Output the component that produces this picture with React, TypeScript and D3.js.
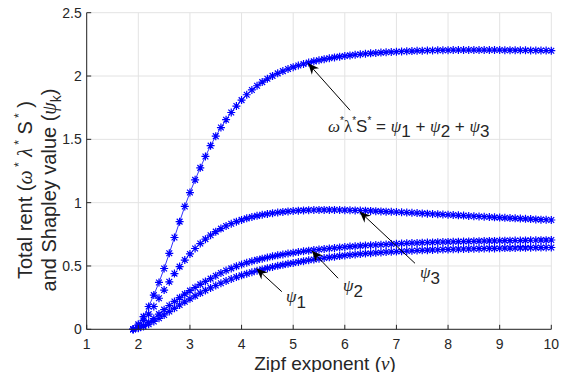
import React from "react";
import * as d3 from "d3";

// sample grid of the Zipf exponent
const nu = [
  1.9, 2.0, 2.1, 2.2, 2.3, 2.4, 2.5, 2.6, 2.7, 2.8, 2.9,
  3.0, 3.1, 3.2, 3.3, 3.4, 3.5, 3.6, 3.7, 3.8, 3.9,
  4.0, 4.1, 4.2, 4.3, 4.4, 4.5, 4.6, 4.7, 4.8, 4.9,
  5.0, 5.1, 5.2, 5.3, 5.4, 5.5, 5.6, 5.7, 5.8, 5.9,
  6.0, 6.1, 6.2, 6.3, 6.4, 6.5, 6.6, 6.7, 6.8, 6.9,
  7.0, 7.1, 7.2, 7.3, 7.4, 7.5, 7.6, 7.7, 7.8, 7.9,
  8.0, 8.1, 8.2, 8.3, 8.4, 8.5, 8.6, 8.7, 8.8, 8.9,
  9.0, 9.1, 9.2, 9.3, 9.4, 9.5, 9.6, 9.7, 9.8, 9.9,
  10.0,
];

// total rent  w* l* S*
const totalRent = [
  0, 0.04, 0.10, 0.18, 0.27, 0.37, 0.48, 0.60, 0.725, 0.85, 0.97,
  1.08, 1.18, 1.275, 1.365, 1.45, 1.525, 1.593, 1.655, 1.712, 1.763,
  1.81, 1.852, 1.89, 1.923, 1.952, 1.978, 2.001, 2.021, 2.039, 2.055,
  2.07, 2.083, 2.095, 2.106, 2.116, 2.125, 2.133, 2.14, 2.147, 2.153,
  2.158, 2.163, 2.168, 2.172, 2.176, 2.179, 2.182, 2.185, 2.188, 2.19,
  2.192, 2.194, 2.196, 2.197, 2.199, 2.2, 2.201, 2.202, 2.203, 2.204,
  2.204, 2.205, 2.205, 2.205, 2.205, 2.205, 2.205, 2.205, 2.205, 2.205,
  2.205, 2.204, 2.204, 2.204, 2.203, 2.203, 2.202, 2.202, 2.201, 2.201,
  2.2,
];

const psi3 = [
  0, 0.03, 0.07, 0.12, 0.18, 0.245, 0.31, 0.375, 0.44, 0.495, 0.547,
  0.595, 0.638, 0.677, 0.712, 0.743, 0.771, 0.795, 0.816, 0.834, 0.85,
  0.864, 0.876, 0.887, 0.896, 0.904, 0.911, 0.917, 0.922, 0.927, 0.931,
  0.934, 0.937, 0.939, 0.941, 0.942, 0.943, 0.943, 0.943, 0.943, 0.942,
  0.941, 0.94, 0.939, 0.938, 0.937, 0.935, 0.933, 0.931, 0.929, 0.928,
  0.926, 0.924, 0.922, 0.92, 0.918, 0.915, 0.913, 0.911, 0.909, 0.906,
  0.904, 0.902, 0.9, 0.898, 0.895, 0.893, 0.891, 0.889, 0.887, 0.884,
  0.882, 0.88, 0.878, 0.876, 0.874, 0.872, 0.87, 0.868, 0.866, 0.865,
  0.863,
];

const psi2 = [
  0, 0.012, 0.03, 0.055, 0.085, 0.12, 0.155, 0.188, 0.22, 0.25, 0.278,
  0.305, 0.33, 0.355, 0.378, 0.4, 0.423, 0.445, 0.464, 0.481, 0.497,
  0.512, 0.525, 0.537, 0.548, 0.558, 0.567, 0.576, 0.584, 0.591, 0.598,
  0.604, 0.61, 0.616, 0.621, 0.626, 0.63, 0.634, 0.638, 0.642, 0.646,
  0.65, 0.653, 0.656, 0.659, 0.662, 0.664, 0.666, 0.668, 0.67, 0.673,
  0.675, 0.677, 0.679, 0.681, 0.682, 0.684, 0.685, 0.686, 0.688, 0.689,
  0.69, 0.691, 0.692, 0.693, 0.694, 0.695, 0.696, 0.697, 0.698, 0.698,
  0.699, 0.7, 0.7, 0.701, 0.701, 0.702, 0.703, 0.703, 0.704, 0.704,
  0.705,
];

const psi1 = [
  0, 0.008, 0.022, 0.04, 0.062, 0.087, 0.113, 0.14, 0.166, 0.192, 0.217,
  0.241, 0.264, 0.286, 0.307, 0.327, 0.346, 0.364, 0.381, 0.397, 0.412,
  0.426, 0.439, 0.451, 0.462, 0.473, 0.483, 0.492, 0.501, 0.509, 0.517,
  0.524, 0.531, 0.538, 0.545, 0.551, 0.557, 0.563, 0.568, 0.573, 0.578,
  0.583, 0.587, 0.591, 0.595, 0.598, 0.601, 0.604, 0.607, 0.61, 0.612,
  0.614, 0.616, 0.618, 0.62, 0.622, 0.624, 0.625, 0.627, 0.628, 0.63,
  0.631, 0.632, 0.633, 0.634, 0.635, 0.636, 0.637, 0.638, 0.639, 0.639,
  0.64, 0.641, 0.641, 0.642, 0.643, 0.643, 0.644, 0.645, 0.645, 0.646,
  0.646,
];

const xTicks = [1, 2, 3, 4, 5, 6, 7, 8, 9, 10];
const yTicks = [0, 0.5, 1, 1.5, 2, 2.5];

// arrows: tip and tail in data units
const arrows = [
  { tip: [5.29, 2.1], tail: [6.1, 1.73] },
  { tip: [6.29, 0.929], tail: [7.36, 0.521] },
  { tip: [5.36, 0.62], tail: [5.87, 0.403] },
  { tip: [4.29, 0.48], tail: [4.78, 0.297] },
];

const W = 561, H = 372;
const margin = { top: 12.7, right: 9.7, bottom: 42.7, left: 86.7 };
const BLUE = "#0000ff";
const INK = "#262626";
const SANS = "'Liberation Sans', Arial, Helvetica, sans-serif";
const SERIF = "'Liberation Serif', 'Times New Roman', serif";

function starPath(pts: [number, number][], r: number) {
  const d = r * 0.72;
  return pts
    .map(([x, y]) =>
      `M${x - r},${y}h${2 * r}M${x},${y - r}v${2 * r}` +
      `M${x - d},${y - d}l${2 * d},${2 * d}M${x - d},${y + d}l${2 * d},${-2 * d}`
    )
    .join("");
}

function arrowHead(x1: number, y1: number, x2: number, y2: number) {
  // vback2 style head at (x2,y2)
  const a = Math.atan2(y2 - y1, x2 - x1);
  const L = 11, w = 4.8, notch = 7.5;
  const ux = Math.cos(a), uy = Math.sin(a);
  const px = -uy, py = ux;
  const bx = x2 - ux * L, by = y2 - uy * L;
  const nx = x2 - ux * notch, ny = y2 - uy * notch;
  return `M${x2},${y2}L${bx + px * w},${by + py * w}L${nx},${ny}L${bx - px * w},${by - py * w}Z`;
}

export default function App() {
  const x = d3.scaleLinear().domain([1, 10]).range([margin.left, W - margin.right]);
  const y = d3.scaleLinear().domain([0, 2.5]).range([H - margin.bottom, margin.top]);

  const series = [totalRent, psi3, psi2, psi1];
  const line = d3.line<number>().x((_, i) => x(nu[i])).y((d) => y(d));

  const x0 = x(1), x1 = x(10), y0 = y(0), yTop = y(2.5);

  return (
    <svg width={W} height={H} style={{ position: "absolute", left: 0, top: 0, background: "#fff" }}>
      <rect width={W} height={H} fill="#fff" />
      {/* grid */}
      <g stroke="#e3e3e3" strokeWidth={1}>
        {xTicks.map((t) => (
          <line key={"gx" + t} x1={x(t)} x2={x(t)} y1={yTop} y2={y0} />
        ))}
        {yTicks.map((t) => (
          <line key={"gy" + t} x1={x0} x2={x1} y1={y(t)} y2={y(t)} />
        ))}
      </g>

      {/* series */}
      <path d={line(totalRent) || ""} fill="none" stroke={BLUE} strokeWidth={0.8} />
      {series.map((s, k) => (
        <path
          key={"s" + k}
          d={starPath(s.map((v, i) => [x(nu[i]), y(v)] as [number, number]), 4)}
          fill="none"
          stroke={BLUE}
          strokeWidth={1.2}
        />
      ))}

      {/* axes */}
      <g stroke={INK} strokeWidth={1} fill="none">
        <line x1={x0} x2={x1} y1={y0} y2={y0} />
        <line x1={x0} x2={x0} y1={yTop} y2={y0} />
        {xTicks.map((t) => (
          <line key={"tx" + t} x1={x(t)} x2={x(t)} y1={y0} y2={y0 - 4.5} />
        ))}
        {yTicks.map((t) => (
          <line key={"ty" + t} x1={x0} x2={x0 + 4.5} y1={y(t)} y2={y(t)} />
        ))}
      </g>
      <g fill={INK} fontFamily={SANS} fontSize={14}>
        {xTicks.map((t) => (
          <text key={"lx" + t} x={x(t)} y={y0 + 19.5} textAnchor="middle">{t}</text>
        ))}
        {yTicks.map((t) => (
          <text key={"ly" + t} x={x0 - 5} y={y(t) + 5} textAnchor="end">{t}</text>
        ))}
      </g>

      {/* x label */}
      <text x={325} y={369.5} textAnchor="middle" fontFamily={SANS} fontSize={19} fill={INK}>
        Zipf exponent (<tspan fontFamily={SERIF} fontStyle="italic">ν</tspan>)
      </text>

      {/* y label */}
      <g
        transform={`translate(32,190) rotate(-90)`}
        fontFamily={SANS}
        fontSize={20}
        fill={INK}
        style={{ whiteSpace: "pre" }}
      >
        <text x={0} y={0} textAnchor="middle">
          Total rent (<tspan fontFamily={SERIF} fontStyle="italic">ω</tspan>
          <tspan dy={-9} fontSize={12}> *</tspan>
          <tspan dy={9}> </tspan>
          <tspan fontFamily={SERIF} fontStyle="italic">λ</tspan>
          <tspan dy={-9} fontSize={12}> *</tspan>
          <tspan dy={9}> S</tspan>
          <tspan dy={-9} fontSize={12}> *</tspan>
          <tspan dy={9}> )</tspan>
        </text>
        <text x={0} y={24} textAnchor="middle">
          {"and  Shapley value ("}<tspan fontFamily={SERIF} fontStyle="italic">ψ</tspan>
          <tspan dy={5} fontSize={14}>k</tspan>
          <tspan dy={-5}>)</tspan>
        </text>
      </g>

      {/* arrows */}
      {arrows.map((a, i) => {
        const tx = x(a.tip[0]), ty = y(a.tip[1]);
        const sx = x(a.tail[0]), sy = y(a.tail[1]);
        return (
          <g key={"a" + i}>
            <line x1={sx} y1={sy} x2={tx} y2={ty} stroke="#000" strokeWidth={1} />
            <path d={arrowHead(sx, sy, tx, ty)} fill="#000" />
          </g>
        );
      })}

      {/* annotation texts */}
      <text x={328} y={132} fontFamily={SANS} fontSize={17} fill={INK}>
        <tspan fontFamily={SERIF} fontStyle="italic">ω</tspan>
        <tspan dy={-8} fontSize={10}>*</tspan>
        <tspan dy={8} fontFamily={SERIF}>λ</tspan>
        <tspan dy={-8} fontSize={10}>*</tspan>
        <tspan dy={8}>S</tspan>
        <tspan dy={-8} fontSize={10}>*</tspan>
        <tspan dy={8}> = </tspan>
        <tspan fontFamily={SERIF} fontStyle="italic">ψ</tspan>
        <tspan dy={5}>1</tspan>
        <tspan dy={-5}> + </tspan>
        <tspan fontFamily={SERIF} fontStyle="italic">ψ</tspan>
        <tspan dy={5}>2</tspan>
        <tspan dy={-5}> + </tspan>
        <tspan fontFamily={SERIF} fontStyle="italic">ψ</tspan>
        <tspan dy={5}>3</tspan>
      </text>
      {[
        { sx: 420, sy: 278, k: "3" },
        { sx: 343, sy: 291, k: "2" },
        { sx: 286, sy: 302, k: "1" },
      ].map((l) => (
        <text key={"p" + l.k} x={l.sx} y={l.sy} fontFamily={SANS} fontSize={17} fill={INK}>
          <tspan fontFamily={SERIF} fontStyle="italic">ψ</tspan>
          <tspan dy={6}>{l.k}</tspan>
        </text>
      ))}
    </svg>
  );
}
